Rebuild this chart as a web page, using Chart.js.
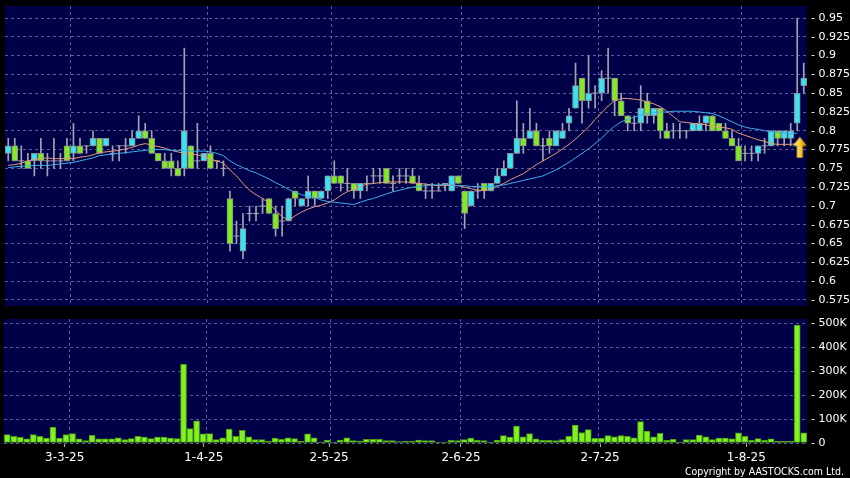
<!DOCTYPE html>
<html>
<head>
<meta charset="utf-8">
<script src="https://cdn.jsdelivr.net/npm/chart.js@4.4.1/dist/chart.umd.min.js"></script>
<style>
  html, body { margin: 0; padding: 0; background: #000; }
  #wrap { position: relative; width: 850px; height: 478px; overflow: hidden; background: #000; }
  #wrap canvas { position: absolute; left: 0; }
  #priceChart { top: 0; }
  #volChart { top: 312px; }
  #copy {
    position: absolute; right: 6px; top: 465px;
    color: #fff; font: 10.5px "DejaVu Sans Condensed", "DejaVu Sans", sans-serif;
    line-height: 12px; white-space: nowrap;
  }
</style>
</head>
<body>
<div id="wrap">
  <canvas id="priceChart" width="850" height="312"></canvas>
  <canvas id="volChart" width="850" height="166"></canvas>
  <div id="copy">Copyright by AASTOCKS.com Ltd.</div>
</div>
<script>
// daily candles, index 0 = 17-2-25
const opens = [
  .77,.78,.76,.76,.76,.77,.76,.76,.76,.78, .77,.78,.78,.78,.79,.78,.77,.78,.78,.78,
  .79,.80,.79,.77,.76,.76,.75,.75,.78,.76, .76,.77,.76,.75,.71,.66,.64,.69,.69,.70,
  .71,.69,.68,.68,.72,.70,.71,.72,.71,.72, .74,.74,.73,.73,.72,.73,.74,.74,.75,.73,
  .74,.74,.74,.73,.72,.72,.72,.73,.72,.74, .72,.70,.72,.73,.72,.73,.74,.75,.77,.79,
  .79,.80,.78,.79,.78,.79,.81,.83,.87,.84, .85,.85,.87,.87,.84,.82,.81,.81,.84,.82,
  .83,.80,.80,.80,.80,.80,.80,.81,.82,.81, .80,.79,.78,.77,.77,.77,.78,.78,.80,.79,
  .79,.81,.86
];
const highs = [
  .79,.79,.78,.77,.77,.79,.77,.79,.77,.79, .81,.79,.78,.80,.79,.79,.78,.78,.79,.80,
  .82,.81,.80,.77,.77,.77,.76,.91,.78,.81, .77,.78,.76,.76,.72,.68,.69,.70,.70,.71,
  .71,.70,.70,.71,.72,.71,.74,.72,.72,.74, .76,.74,.75,.73,.73,.74,.75,.75,.75,.74,
  .75,.75,.75,.74,.73,.73,.73,.73,.74,.74, .72,.72,.73,.73,.73,.75,.76,.77,.84,.81,
  .83,.81,.79,.80,.80,.81,.83,.89,.87,.90, .86,.88,.91,.87,.85,.82,.82,.86,.85,.83,
  .83,.81,.81,.81,.80,.81,.82,.82,.82,.81, .81,.80,.79,.78,.78,.78,.79,.80,.80,.80,
  .81,.95,.89
];
const lows = [
  .76,.76,.75,.75,.74,.75,.74,.75,.75,.76, .76,.77,.77,.78,.77,.78,.76,.76,.77,.78,
  .79,.79,.77,.76,.75,.74,.74,.74,.75,.75, .76,.75,.75,.74,.64,.65,.63,.68,.68,.69,
  .69,.66,.66,.68,.70,.70,.70,.70,.71,.71, .73,.72,.72,.71,.71,.72,.73,.73,.73,.72,
  .73,.73,.73,.72,.71,.71,.72,.72,.72,.73, .67,.70,.71,.71,.72,.73,.74,.75,.77,.77,
  .79,.78,.76,.77,.78,.79,.80,.83,.81,.83, .83,.84,.85,.82,.82,.80,.80,.80,.81,.81,
  .79,.79,.79,.79,.79,.80,.80,.80,.80,.80, .79,.78,.76,.76,.76,.76,.77,.78,.78,.78,
  .78,.80,.85
];
const closes = [
  .78,.76,.76,.75,.77,.76,.76,.76,.76,.76, .78,.77,.78,.79,.77,.79,.77,.78,.78,.79,
  .80,.79,.77,.76,.75,.75,.74,.80,.75,.76, .77,.75,.76,.75,.65,.66,.67,.69,.69,.70,
  .69,.67,.68,.71,.71,.71,.72,.71,.72,.74, .73,.73,.73,.72,.73,.73,.74,.74,.73,.73,
  .74,.74,.73,.72,.72,.72,.72,.73,.74,.73, .69,.72,.72,.72,.73,.74,.75,.77,.79,.78,
  .80,.78,.78,.78,.80,.80,.82,.86,.84,.85, .85,.87,.87,.84,.82,.81,.81,.83,.82,.83,
  .80,.79,.80,.80,.80,.81,.81,.82,.80,.80, .79,.78,.76,.77,.77,.78,.78,.80,.79,.80,
  .80,.85,.87
];
// moving averages as drawn (orange = short, blue = long)
const maShort = [
  .754,.755,.757,.760,.762,.763,.764,.763,.763,.763, .763,.765,.766,.768,.771,.772,.773,.774,.776,.778,
  .781,.783,.781,.779,.777,.774,.772,.770,.769,.768, .766,.762,.760,.757,.748,.740,.730,.721,.715,.710,
  .704,.694,.686,.681,.687,.692,.696,.699,.701,.704, .708,.714,.719,.722,.726,.729,.730,.731,.732,.732,
  .732,.732,.731,.730,.729,.728,.727,.727,.728,.727, .725,.723,.721,.721,.722,.726,.730,.735,.739,.743,
  .749,.755,.760,.765,.770,.776,.782,.789,.797,.805, .815,.824,.833,.840,.843,.843,.842,.841,.838,.836,
  .832,.826,.819,.812,.811,.810,.809,.808,.806,.805, .804,.802,.797,.794,.791,.788,.786,.783,.782,.782,
  .782,.783,null
];
const maLong = [
  .751,.752,.753,.753,.754,.754,.754,.755,.756,.757, .758,.760,.762,.764,.767,.768,.769,.770,.771,.772,
  .773,.774,.775,.775,.775,.774,.774,.774,.773,.773, .773,.772,.770,.767,.760,.755,.751,.747,.744,.740,
  .736,.731,.727,.722,.718,.715,.713,.711,.708,.706, .705,.704,.703,.702,.705,.708,.710,.713,.716,.719,
  .721,.723,.725,.726,.727,.728,.728,.729,.728,.727, .727,.726,.726,.726,.726,.727,.728,.730,.732,.734,
  .736,.738,.740,.744,.748,.753,.758,.764,.770,.776, .783,.790,.799,.806,.812,.815,.818,.821,.823,.824,
  .825,.825,.826,.826,.826,.826,.825,.824,.823,.820, .816,.812,.808,.805,.803,.802,.800,.799,.798,.797,
  .796,.797,null
];
// volume, thousands of shares
const volumes = [
  35,28,24,17,35,28,21,67,21,35, 39,17,10,32,17,17,17,22,14,18,
  28,25,18,25,25,21,18,329,60,93, 38,39,14,22,58,28,53,26,14,14,
  7,21,15,22,18,7,38,22,4,12, 4,12,22,10,8,15,15,15,10,10,
  6,7,8,12,10,10,4,4,11,10, 14,21,11,10,4,12,31,25,71,26,
  39,17,11,11,10,14,28,75,44,56, 19,19,31,26,31,28,22,89,50,26,
  40,11,15,4,14,14,33,26,14,21, 21,17,42,28,11,18,11,17,7,7,
  7,493,42
];
const markerIdx = [121.4];
const markerPrice = [0.778];

const gridIdx = [9.5, 30.5, 49.5, 69.5, 90.5, 112.5];
const dateTickIdx = [8.8, 30.1, 49.3, 69.5, 90.8, 113.2];
const dateTickText = ['3-3-25', '1-4-25', '2-5-25', '2-6-25', '2-7-25', '1-8-25'];
const priceTicks = [0.575, 0.6, 0.625, 0.65, 0.675, 0.7, 0.725, 0.75, 0.775, 0.8, 0.825, 0.85, 0.875, 0.9, 0.925, 0.95];
const priceTickText = ['- 0.575', '- 0.6', '- 0.625', '- 0.65', '- 0.675', '- 0.7', '- 0.725', '- 0.75',
  '- 0.775', '- 0.8', '- 0.825', '- 0.85', '- 0.875', '- 0.9', '- 0.925', '- 0.95'];
const volTicks = [0, 100, 200, 300, 400, 500];
const volTickText = ['- 0', '- 100K', '- 200K', '- 300K', '- 400K', '- 500K'];

const navy = '#000048';
const gridColor = '#5c5c94';
const upColor = '#38e4f4';
const downColor = '#82ea22';
const wickColor = '#a2a2b0';
const font = 'DejaVu Sans';

const plotBg = {
  id: 'plotBg',
  beforeDraw(chart) {
    const { ctx, chartArea: a } = chart;
    ctx.save();
    ctx.fillStyle = navy;
    ctx.fillRect(a.left, a.top, a.right - a.left, a.bottom - a.top);
    ctx.restore();
  }
};

// fixed axis box, no extra room for the labels at the ends
function fixBox(size) {
  return s => {
    if (s.isHorizontal()) s.height = size; else s.width = size;
    s.paddingTop = 0; s.paddingBottom = 0; s.paddingLeft = 0; s.paddingRight = 0;
  };
}

function makeArrow() {
  const c = document.createElement('canvas');
  c.width = 15; c.height = 22;
  const g = c.getContext('2d');
  const grad = g.createLinearGradient(0, 0, 15, 0);
  grad.addColorStop(0, '#fff4a0');
  grad.addColorStop(0.45, '#ffd232');
  grad.addColorStop(1, '#cc8800');
  g.fillStyle = grad;
  g.beginPath();
  g.moveTo(7.5, 0.5);
  g.lineTo(14.5, 9.5);
  g.lineTo(10.5, 9.5);
  g.lineTo(10.5, 21.5);
  g.lineTo(4.5, 21.5);
  g.lineTo(4.5, 9.5);
  g.lineTo(0.5, 9.5);
  g.closePath();
  g.fill();
  return c;
}

const idx = closes.map((_, i) => i);
const wickData = idx.map(i => ({ x: i, y: [lows[i], highs[i]] }));
const bodyData = idx.filter(i => opens[i] !== closes[i])
  .map(i => ({ x: i, y: [Math.min(opens[i], closes[i]), Math.max(opens[i], closes[i])], up: closes[i] > opens[i] }));
const dojiData = idx.filter(i => opens[i] === closes[i]).map(i => ({ x: i, y: closes[i] }));
const maShortData = idx.map(i => ({ x: i, y: maShort[i] }));
const maLongData = idx.map(i => ({ x: i, y: maLong[i] }));
const markerData = markerIdx.map((x, k) => ({ x: x, y: markerPrice[k] }));
const volData = idx.map(i => ({ x: i, y: volumes[i] }));

const xMin = -0.5, xMax = closes.length - 0.5;

new Chart(document.getElementById('priceChart'), {
  type: 'bar',
  data: {
    datasets: [
      { type: 'bar', data: wickData, backgroundColor: wickColor, borderWidth: 0,
        barThickness: 1, grouped: false, order: 5 },
      { type: 'bar', data: bodyData, grouped: false, barThickness: 6, order: 4,
        backgroundColor: c => (c.raw && c.raw.up ? upColor : downColor),
        borderColor: '#8c8c8c', borderWidth: 1, borderSkipped: false },
      { type: 'line', data: dojiData, showLine: false, pointStyle: 'line', pointRadius: 3,
        pointBorderColor: wickColor, pointBorderWidth: 1, order: 3 },
      { type: 'line', data: maShortData, borderColor: '#e59a78', borderWidth: 1,
        pointRadius: 0, tension: 0, order: 2 },
      { type: 'line', data: maLongData, borderColor: '#3eaee8', borderWidth: 1,
        pointRadius: 0, tension: 0, order: 1 },
      { type: 'line', data: markerData, showLine: false, pointStyle: makeArrow(), order: 0 }
    ]
  },
  options: {
    responsive: false,
    devicePixelRatio: 1,
    animation: false,
    events: [],
    layout: { padding: { left: 4, top: 6, right: 0, bottom: 0 } },
    plugins: { legend: { display: false }, tooltip: { enabled: false } },
    scales: {
      x: {
        type: 'linear', min: xMin, max: xMax, offset: false,
        afterBuildTicks: s => { s.ticks = gridIdx.map(v => ({ value: v })); },
        ticks: { display: false },
        grid: { color: gridColor, drawTicks: false, offset: false },
        border: { display: false, dash: [3, 3] },
        afterFit: fixBox(6)
      },
      y: {
        position: 'right', min: 0.567, max: 0.966,
        afterBuildTicks: s => { s.ticks = priceTicks.map(v => ({ value: v })); },
        ticks: { color: '#fff', font: { family: font, size: 11 }, padding: 4,
          callback: (v, i) => priceTickText[i] },
        grid: { color: gridColor, drawTicks: false },
        border: { display: false, dash: [3, 3] },
        afterFit: fixBox(43)
      }
    }
  },
  plugins: [plotBg]
});

new Chart(document.getElementById('volChart'), {
  type: 'bar',
  data: {
    datasets: [
      { data: volData, backgroundColor: '#80f222', borderColor: '#4c9c12', borderWidth: 1,
        borderSkipped: false, barThickness: 6, grouped: false, xAxisID: 'x', yAxisID: 'y' }
    ]
  },
  options: {
    responsive: false,
    devicePixelRatio: 1,
    animation: false,
    events: [],
    layout: { padding: { left: 4, top: 0, right: 0, bottom: 0 } },
    plugins: { legend: { display: false }, tooltip: { enabled: false } },
    scales: {
      x: {
        type: 'linear', position: 'bottom', min: xMin, max: xMax, offset: false,
        afterBuildTicks: s => { s.ticks = dateTickIdx.map(v => ({ value: v })); },
        ticks: { color: '#fff', font: { family: font, size: 12 }, padding: 4,
          maxRotation: 0, autoSkip: false, callback: (v, i) => dateTickText[i] },
        grid: { drawOnChartArea: false, drawTicks: true, tickLength: 4, tickColor: '#b0b0b0', offset: false },
        border: { display: false },
        afterFit: fixBox(35)
      },
      xg: {
        type: 'linear', position: 'top', min: xMin, max: xMax, offset: false,
        afterBuildTicks: s => { s.ticks = gridIdx.map(v => ({ value: v })); },
        ticks: { display: false },
        grid: { color: gridColor, drawTicks: false, offset: false },
        border: { display: false, dash: [3, 3] },
        afterFit: fixBox(7)
      },
      y: {
        position: 'right', min: 0, max: 518,
        afterBuildTicks: s => { s.ticks = volTicks.map(v => ({ value: v })); },
        ticks: { color: '#fff', font: { family: font, size: 11 }, padding: 4,
          callback: (v, i) => volTickText[i] },
        grid: { color: gridColor, drawTicks: false },
        border: { display: false, dash: [3, 3] },
        afterFit: fixBox(43)
      }
    }
  },
  plugins: [plotBg]
});
</script>
</body>
</html>
